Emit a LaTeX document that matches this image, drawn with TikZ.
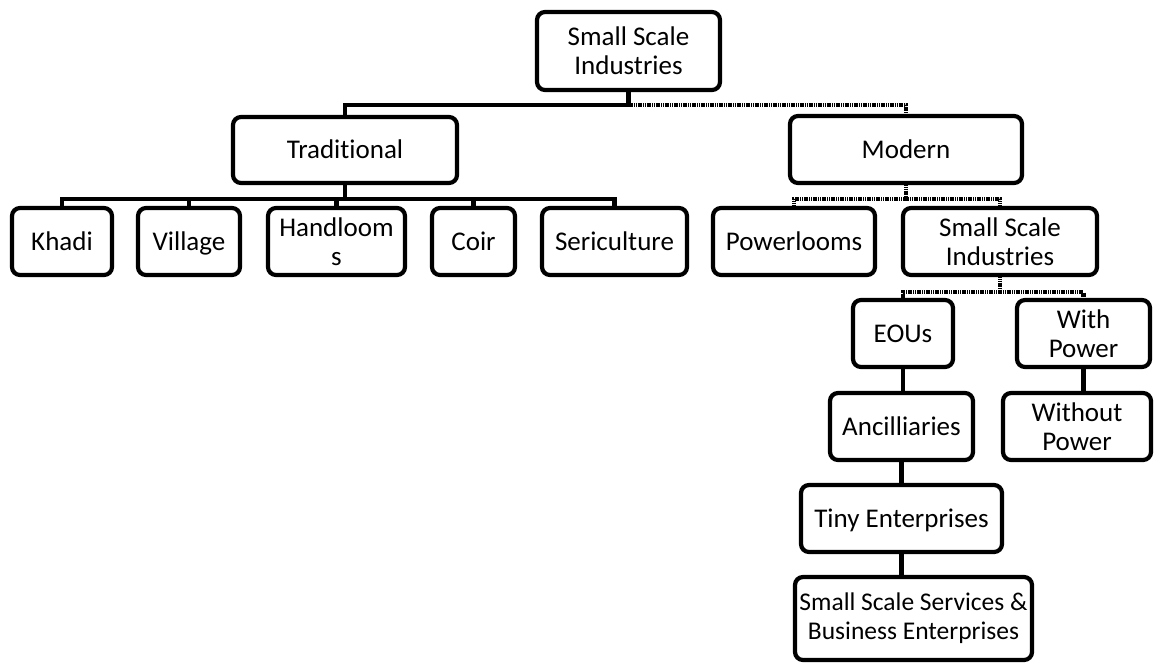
\documentclass[tikz,border=0pt]{standalone}
\usepackage{fontspec}
\setmainfont{Carlito}[Ligatures=NoCommon]
\usetikzlibrary{calc}
\tikzset{
  box/.style={draw=black, line width=4.2pt, rounded corners=8pt, fill=white, align=center,
    inner sep=0pt, font=\fontsize{27}{29}\selectfont},
  one/.style={text height=20pt, text depth=3pt},
  link/.style={draw=black, line width=4.2pt},
  hatch/.style={draw=black, line width=4.2pt, dash pattern=on 1.2pt off 0.6pt},
}
\begin{document}
\begin{tikzpicture}[x=1pt,y=-1pt]
\useasboundingbox (0,0) rectangle (1154,664);
\node[box, minimum width=183pt, minimum height=78pt] (top) at (628.5,51) {Small Scale\\Industries};
\node[box, one, minimum width=224pt, minimum height=66pt] (trad) at (345,150) {Traditional};
\node[box, one, minimum width=232pt, minimum height=67pt] (modern) at (906,149.5) {Modern};
\node[box, one, minimum width=100pt, minimum height=67pt] (khadi) at (62,241.5) {Khadi};
\node[box, one, minimum width=102pt, minimum height=67pt] (village) at (189,241.5) {Village};
\node[box, minimum width=137pt, minimum height=67pt] (handlooms) at (336.5,241.5) {Handloom\\s};
\node[box, one, minimum width=83pt, minimum height=67pt] (coir) at (473.5,241.5) {Coir};
\node[box, one, minimum width=145pt, minimum height=67pt] (seri) at (614.5,241.5) {Sericulture};
\node[box, one, minimum width=162pt, minimum height=67pt] (power) at (794,241.5) {Powerlooms};
\node[box, minimum width=194pt, minimum height=67pt] (ssi) at (1000,241.5) {Small Scale\\Industries};
\node[box, one, minimum width=100pt, minimum height=67pt] (eous) at (903,333.5) {EOUs};
\node[box, minimum width=133pt, minimum height=67pt] (withp) at (1083.5,333.5) {With\\Power};
\node[box, one, minimum width=143pt, minimum height=67pt] (ancil) at (901.5,426.5) {Ancilliaries};
\node[box, minimum width=148pt, minimum height=67pt] (without) at (1077,426.5) {Without\\Power};
\node[box, one, minimum width=201pt, minimum height=67pt] (tiny) at (901.5,518.5) {Tiny Enterprises};
\node[box, minimum width=237pt, minimum height=83pt, font=\fontsize{25.5}{29}\selectfont] (sssbe) at (913.5,618.5) {Small Scale Services \&\\Business Enterprises};
% top level
\coordinate (b0) at ($(top.south)+(0,13)$);
\draw[link] (top.south) -- (b0) -| (trad.north);
\draw[hatch] (b0) -| (modern.north);
% traditional
\foreach \c in {khadi,village,handlooms,coir,seri}
  \draw[link] (trad.south) -- ++(0,14) -| (\c.north);
% modern
\foreach \c in {power,ssi}
  \draw[hatch] (modern.south) -- ++(0,14) -| (\c.north);
% ssi
\foreach \c in {eous,withp}
  \draw[hatch] (ssi.south) -- ++(0,15) -| (\c.north);
\draw[link] (eous.south) -- (eous.south |- ancil.north);
\draw[link] (withp.south) -- (withp.south |- without.north);
\draw[link] (ancil.south) -- (ancil.south |- tiny.north);
\draw[link] (tiny.south) -- (tiny.south |- sssbe.north);
\end{tikzpicture}
\end{document}
